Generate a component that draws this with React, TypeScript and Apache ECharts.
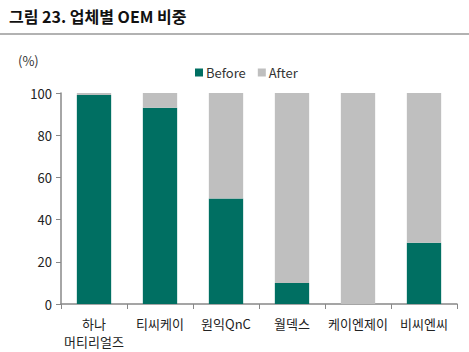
import React, { useEffect, useRef } from "react";
import * as echarts from "echarts";

const categories = ["하나\n머티리얼즈", "티씨케이", "원익QnC", "월덱스", "케이엔제이", "비씨엔씨"];
const beforeValues = [99, 93, 50, 10, 0, 29];
const afterValues = [1, 7, 50, 90, 100, 71];
const yTicks = [0, 20, 40, 60, 80, 100];

const FONT = "'Noto Sans CJK KR', 'Noto Sans', sans-serif";

export default function App() {
  const ref = useRef<HTMLDivElement>(null);
  useEffect(() => {
    if (!ref.current) return;
    const chart = echarts.init(ref.current, undefined, { renderer: "svg" });
    chart.setOption({
      animation: false,
      textStyle: { fontFamily: FONT },
      title: {
        text: "그림 23. 업체별 OEM 비중",
        left: 4,
        top: 3,
        textStyle: { fontFamily: FONT, fontSize: 16, fontWeight: "bold", color: "#111" },
      },
      graphic: [
        {
          type: "line",
          shape: { x1: 0, y1: 34, x2: 469, y2: 34 },
          style: { stroke: "#999", lineWidth: 1.5 },
        },
        {
          type: "text",
          left: 18,
          top: 54,
          style: { text: "(%)", fontFamily: FONT, fontSize: 13, fill: "#333" },
        },
      ],
      legend: {
        left: 190,
        top: 61,
        itemWidth: 8,
        itemHeight: 8,
        itemGap: 12,
        icon: "rect",
        textStyle: { fontFamily: FONT, fontSize: 13, color: "#333", padding: [0, 0, 0, -2] },
        data: ["Before", "After"],
      },
      grid: { left: 61, right: 12, top: 93, bottom: 48, containLabel: false },
      xAxis: {
        type: "category",
        data: categories,
        axisLine: { lineStyle: { color: "#888", width: 1.5 } },
        axisTick: { show: true, alignWithLabel: false, length: 5, lineStyle: { color: "#888" } },
        axisLabel: { fontFamily: FONT, fontSize: 13, color: "#222", margin: 10, lineHeight: 18, interval: 0 },
      },
      yAxis: {
        type: "value",
        min: 0,
        max: 100,
        interval: 20,
        axisLine: { show: true, lineStyle: { color: "#888", width: 1.5 } },
        axisTick: { show: true, length: 5, lineStyle: { color: "#888" } },
        splitLine: { show: false },
        axisLabel: {
          fontFamily: FONT,
          fontSize: 13,
          color: "#222",
          margin: 9,
          formatter: (v: number) => (yTicks.includes(v) ? String(v) : ""),
        },
      },
      series: [
        {
          name: "Before",
          type: "bar",
          stack: "total",
          data: beforeValues,
          barWidth: "52%",
          itemStyle: { color: "#006F62" },
        },
        {
          name: "After",
          type: "bar",
          stack: "total",
          data: afterValues,
          barWidth: "52%",
          itemStyle: { color: "#BFBFBF" },
        },
      ],
    });
    return () => chart.dispose();
  }, []);
  return <div ref={ref} style={{ width: 469, height: 352, position: "absolute", left: 0, top: 0 }} />;
}
